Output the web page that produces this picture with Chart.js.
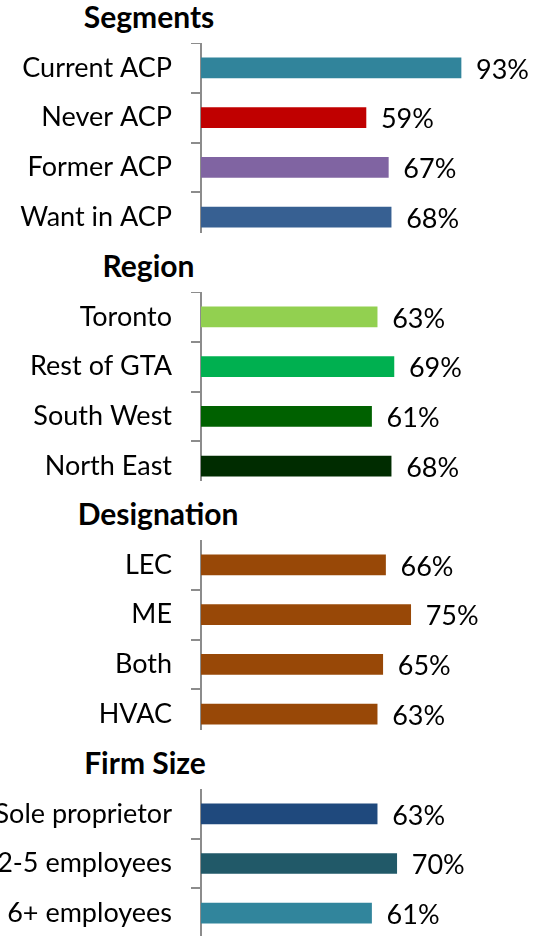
<!DOCTYPE html>
<html>
<head>
<meta charset="utf-8">
<script src="https://cdn.jsdelivr.net/npm/chart.js@4/dist/chart.umd.min.js"></script>
<style>
  html, body { margin: 0; padding: 0; background: #fff; }
  body { width: 539px; height: 936px; overflow: hidden; position: relative; }
  .group { position: absolute; left: 0; width: 539px; background: #fff; }
  .group h2 {
    position: absolute; top: 13px; margin: 0; transform: translateX(-50%);
    font: bold 30px Lato, sans-serif; color: #000; white-space: nowrap; line-height: 38px;
  }
  .group canvas { position: absolute; left: 0; top: 59px; display: block; }
</style>
</head>
<body>
<script>
const segmentLabels = ["Current ACP", "Never ACP", "Former ACP", "Want in ACP"];
const segmentValues = [93, 59, 67, 68];
const segmentColors = ["#31849B", "#C00000", "#8064A2", "#376092"];

const regionLabels = ["Toronto", "Rest of GTA", "South West", "North East"];
const regionValues = [63, 69, 61, 68];
const regionColors = ["#92D050", "#00B050", "#006100", "#002C00"];

const designationLabels = ["LEC", "ME", "Both", "HVAC"];
const designationValues = [66, 75, 65, 63];
const designationColors = ["#984807", "#984807", "#984807", "#984807"];

const firmLabels = ["Sole proprietor", "2-5 employees", "6+ employees"];
const firmValues = [63, 70, 61];
const firmColors = ["#1F497D", "#215968", "#31859C"];

const ROW = 49.67;
const FONT = "Lato, sans-serif";

// percent labels to the right of each bar
const valueLabels = {
  id: "valueLabels",
  afterDatasetsDraw(chart) {
    const ctx = chart.ctx;
    const meta = chart.getDatasetMeta(0);
    ctx.save();
    ctx.font = "27px " + FONT;
    ctx.fillStyle = "#000";
    ctx.textAlign = "left";
    ctx.textBaseline = "middle";
    meta.data.forEach((bar, i) => {
      ctx.fillText(chart.data.datasets[0].data[i] + "%", bar.x + 15, bar.y + 2);
    });
    ctx.restore();
  }
};

function makeGroup(index, title, titleX, labels, values, colors, topTick) {
  const group = document.createElement("div");
  group.className = "group";
  group.style.top = (-16 + 248.67 * index) + "px";
  group.style.height = Math.round(59 + ROW * labels.length) + "px";

  const h = document.createElement("h2");
  h.textContent = title;
  h.style.left = titleX + "px";
  group.appendChild(h);

  const canvas = document.createElement("canvas");
  canvas.width = 539;
  canvas.height = Math.round(ROW * labels.length);
  group.appendChild(canvas);
  document.body.appendChild(group);

  new Chart(canvas, {
    type: "bar",
    data: {
      labels,
      datasets: [{ data: values, backgroundColor: colors, barThickness: 20 }]
    },
    plugins: [valueLabels],
    options: {
      indexAxis: "y",
      responsive: false,
      animation: false,
      layout: { padding: { left: 0, right: 58.4, top: 0, bottom: 0 } },
      scales: {
        x: { display: false, min: 0, max: 100 },
        y: {
          afterFit: (scale) => {
            scale.width = 201;
            scale.paddingTop = 0;
            scale.paddingBottom = 0;
          },
          grid: {
            offset: true,
            drawOnChartArea: false,
            drawTicks: true,
            tickLength: 10,
            lineWidth: 2,
            color: (c) => (c.index === 0 && !topTick ? "rgba(0,0,0,0)" : "#8C8C8C")
          },
          border: { display: true, color: "#8C8C8C", width: 2 },
          ticks: { color: "#000", padding: 19, font: { family: FONT, size: 27 }, autoSkip: false }
        }
      },
      plugins: { legend: { display: false }, tooltip: { enabled: false } }
    }
  });
}

makeGroup(0, "Segments", 149, segmentLabels, segmentValues, segmentColors, true);
makeGroup(1, "Region", 148.5, regionLabels, regionValues, regionColors, true);
makeGroup(2, "Designation", 158, designationLabels, designationValues, designationColors, false);
makeGroup(3, "Firm Size", 145, firmLabels, firmValues, firmColors, false);
</script>
</body>
</html>
